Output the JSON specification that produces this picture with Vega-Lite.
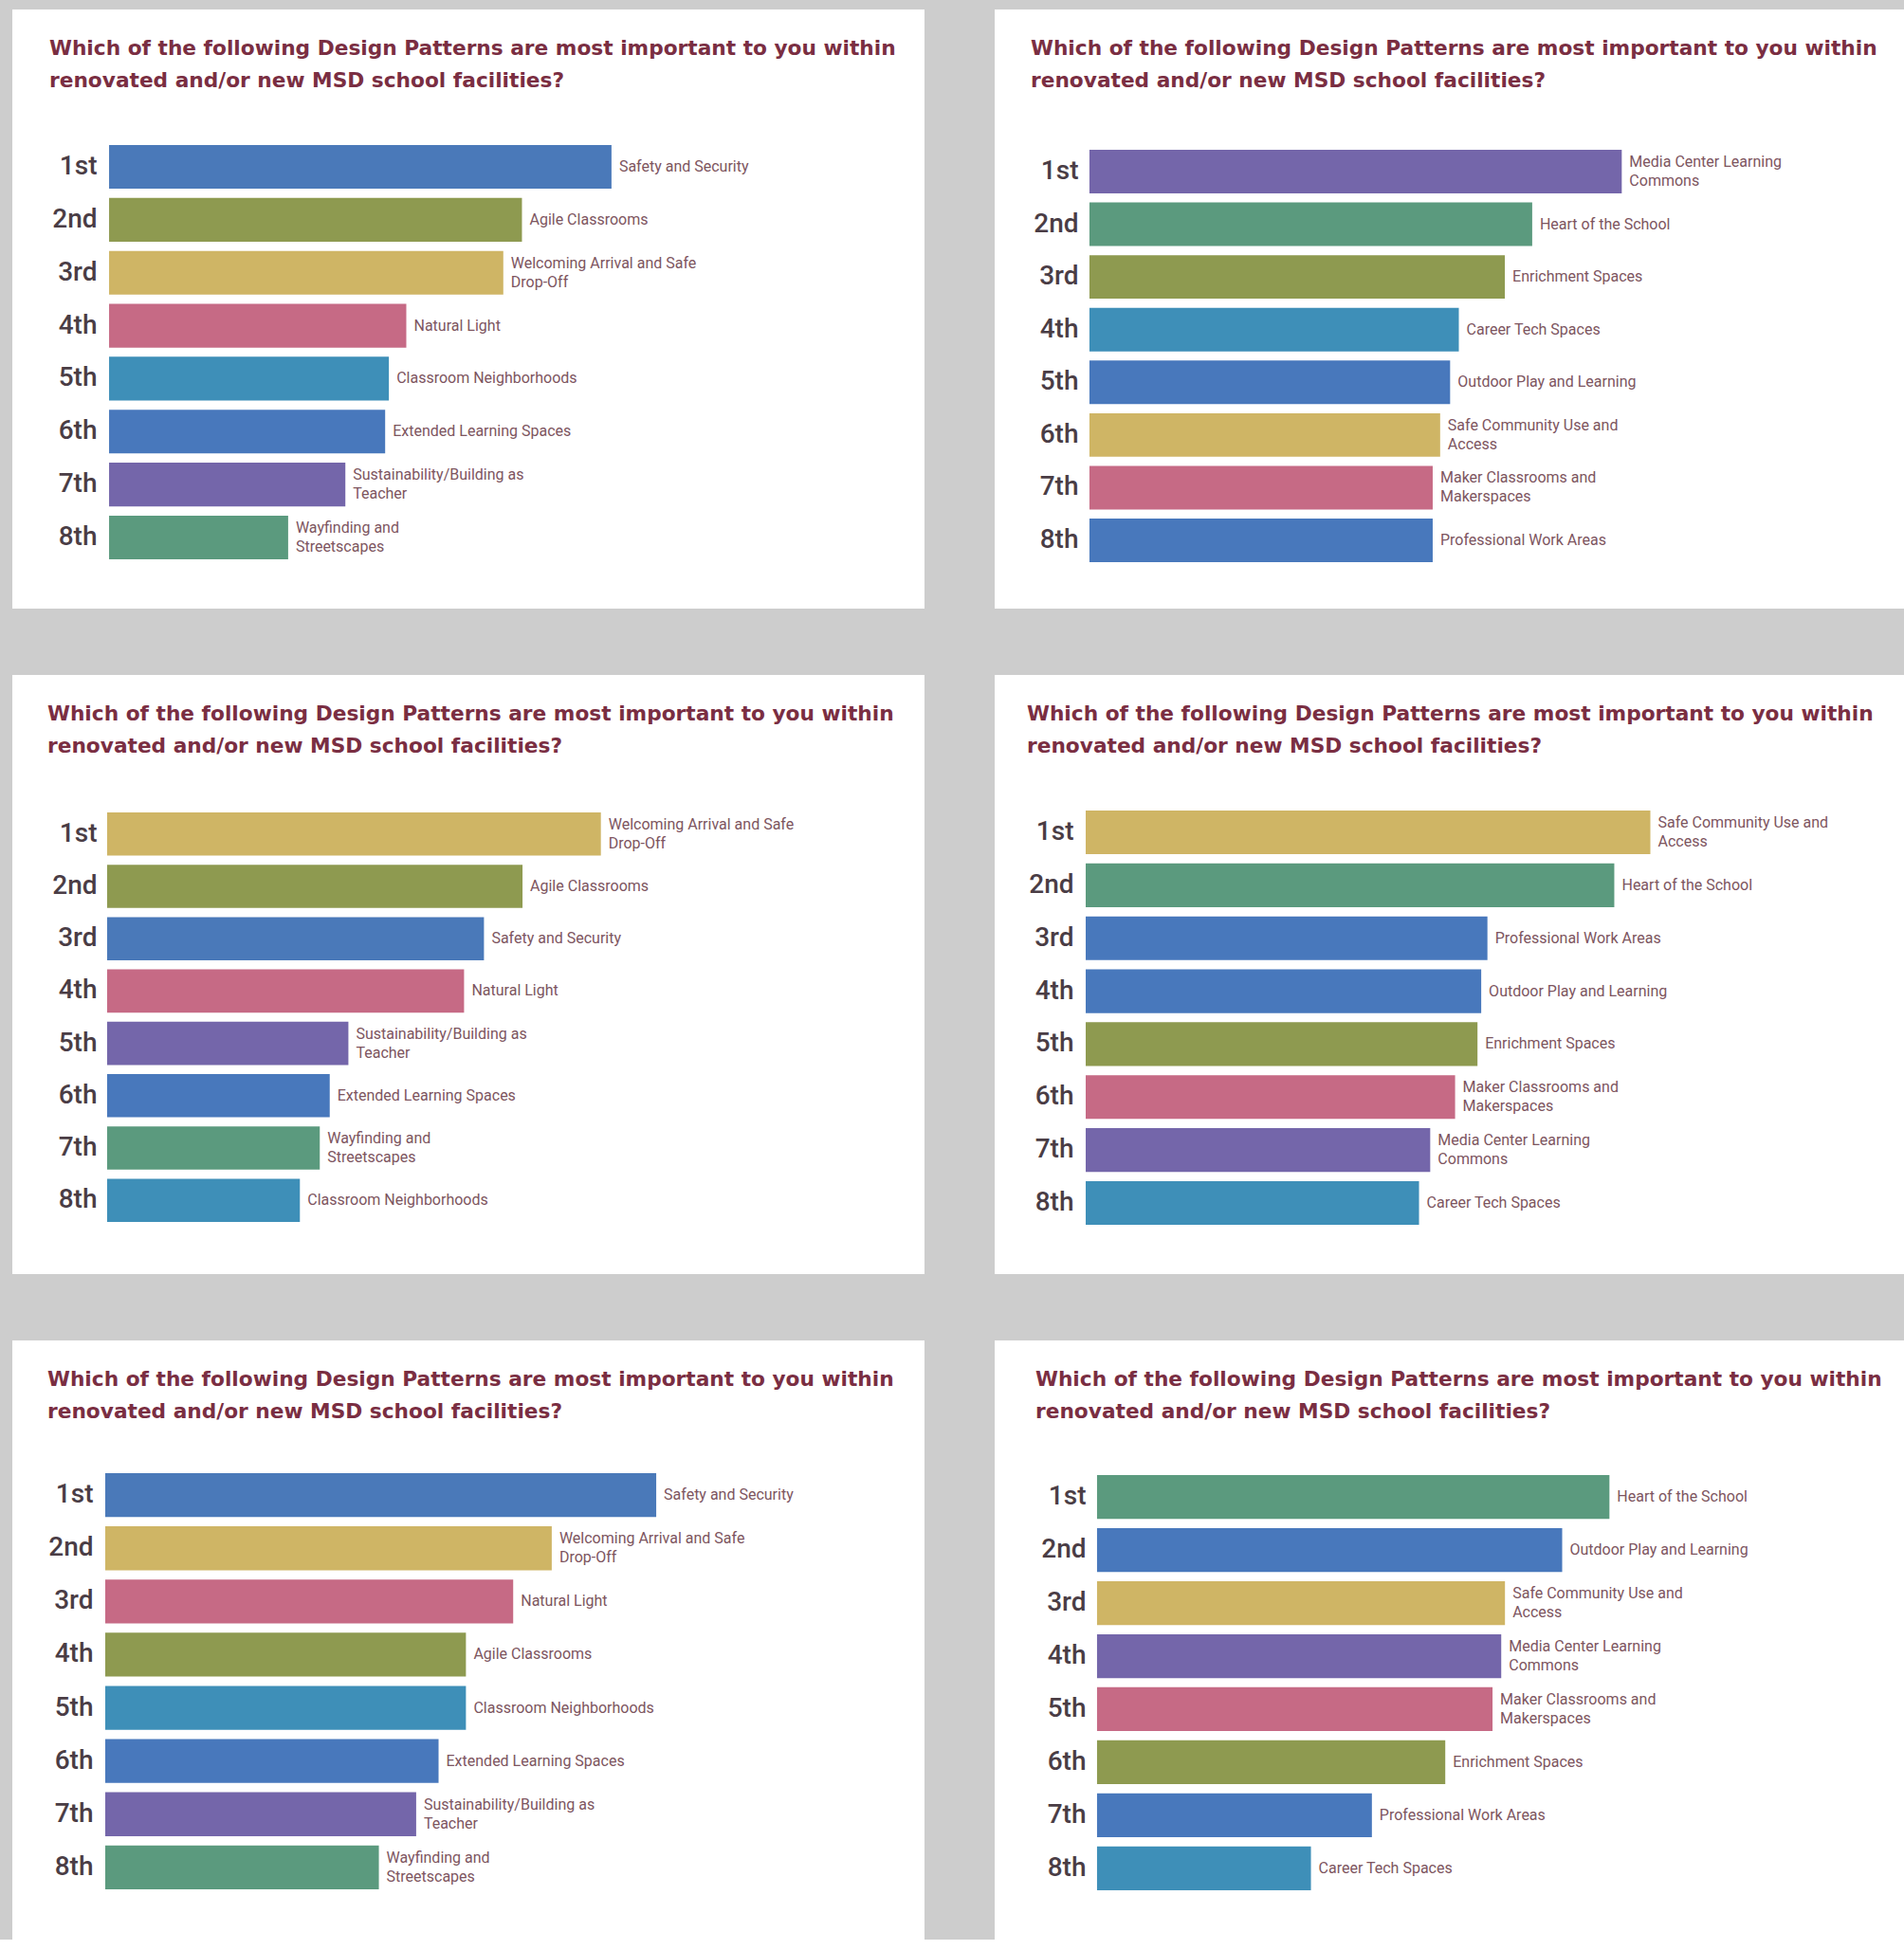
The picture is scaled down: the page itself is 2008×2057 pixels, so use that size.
{
  "$schema": "https://vega.github.io/schema/vega-lite/v6.json",
  "background": "#cdcdcd",
  "padding": {"left": 13, "top": 10, "right": 0, "bottom": 0},
  "data": {
    "values": [
      {"panel": 1, "rank": "1st", "pattern": "Safety and Security", "score": 404},
      {"panel": 1, "rank": "2nd", "pattern": "Agile Classrooms", "score": 332},
      {"panel": 1, "rank": "3rd", "pattern": "Welcoming Arrival and Safe\nDrop-Off", "score": 317},
      {"panel": 1, "rank": "4th", "pattern": "Natural Light", "score": 239},
      {"panel": 1, "rank": "5th", "pattern": "Classroom Neighborhoods", "score": 225},
      {"panel": 1, "rank": "6th", "pattern": "Extended Learning Spaces", "score": 222},
      {"panel": 1, "rank": "7th", "pattern": "Sustainability/Building as\nTeacher", "score": 190},
      {"panel": 1, "rank": "8th", "pattern": "Wayfinding and\nStreetscapes", "score": 144},
      {"panel": 2, "rank": "1st", "pattern": "Media Center Learning\nCommons", "score": 428},
      {"panel": 2, "rank": "2nd", "pattern": "Heart of the School", "score": 356},
      {"panel": 2, "rank": "3rd", "pattern": "Enrichment Spaces", "score": 334},
      {"panel": 2, "rank": "4th", "pattern": "Career Tech Spaces", "score": 297},
      {"panel": 2, "rank": "5th", "pattern": "Outdoor Play and Learning", "score": 290},
      {"panel": 2, "rank": "6th", "pattern": "Safe Community Use and\nAccess", "score": 282},
      {"panel": 2, "rank": "7th", "pattern": "Maker Classrooms and\nMakerspaces", "score": 276},
      {"panel": 2, "rank": "8th", "pattern": "Professional Work Areas", "score": 276},
      {"panel": 3, "rank": "1st", "pattern": "Welcoming Arrival and Safe\nDrop-Off", "score": 397},
      {"panel": 3, "rank": "2nd", "pattern": "Agile Classrooms", "score": 334},
      {"panel": 3, "rank": "3rd", "pattern": "Safety and Security", "score": 303},
      {"panel": 3, "rank": "4th", "pattern": "Natural Light", "score": 287},
      {"panel": 3, "rank": "5th", "pattern": "Sustainability/Building as\nTeacher", "score": 194},
      {"panel": 3, "rank": "6th", "pattern": "Extended Learning Spaces", "score": 179},
      {"panel": 3, "rank": "7th", "pattern": "Wayfinding and\nStreetscapes", "score": 171},
      {"panel": 3, "rank": "8th", "pattern": "Classroom Neighborhoods", "score": 155},
      {"panel": 4, "rank": "1st", "pattern": "Safe Community Use and\nAccess", "score": 454},
      {"panel": 4, "rank": "2nd", "pattern": "Heart of the School", "score": 425},
      {"panel": 4, "rank": "3rd", "pattern": "Professional Work Areas", "score": 323},
      {"panel": 4, "rank": "4th", "pattern": "Outdoor Play and Learning", "score": 318},
      {"panel": 4, "rank": "5th", "pattern": "Enrichment Spaces", "score": 315},
      {"panel": 4, "rank": "6th", "pattern": "Maker Classrooms and\nMakerspaces", "score": 297},
      {"panel": 4, "rank": "7th", "pattern": "Media Center Learning\nCommons", "score": 277},
      {"panel": 4, "rank": "8th", "pattern": "Career Tech Spaces", "score": 268},
      {"panel": 5, "rank": "1st", "pattern": "Safety and Security", "score": 443},
      {"panel": 5, "rank": "2nd", "pattern": "Welcoming Arrival and Safe\nDrop-Off", "score": 359},
      {"panel": 5, "rank": "3rd", "pattern": "Natural Light", "score": 328},
      {"panel": 5, "rank": "4th", "pattern": "Agile Classrooms", "score": 290},
      {"panel": 5, "rank": "5th", "pattern": "Classroom Neighborhoods", "score": 290},
      {"panel": 5, "rank": "6th", "pattern": "Extended Learning Spaces", "score": 268},
      {"panel": 5, "rank": "7th", "pattern": "Sustainability/Building as\nTeacher", "score": 250},
      {"panel": 5, "rank": "8th", "pattern": "Wayfinding and\nStreetscapes", "score": 220},
      {"panel": 6, "rank": "1st", "pattern": "Heart of the School", "score": 412},
      {"panel": 6, "rank": "2nd", "pattern": "Outdoor Play and Learning", "score": 374},
      {"panel": 6, "rank": "3rd", "pattern": "Safe Community Use and\nAccess", "score": 328},
      {"panel": 6, "rank": "4th", "pattern": "Media Center Learning\nCommons", "score": 325},
      {"panel": 6, "rank": "5th", "pattern": "Maker Classrooms and\nMakerspaces", "score": 318},
      {"panel": 6, "rank": "6th", "pattern": "Enrichment Spaces", "score": 280},
      {"panel": 6, "rank": "7th", "pattern": "Professional Work Areas", "score": 221},
      {"panel": 6, "rank": "8th", "pattern": "Career Tech Spaces", "score": 172}
    ]
  },
  "vconcat": [
    {
      "hconcat": [
        {
          "width": 962, "height": 632,
          "title": {"text": ["Which of the following Design Patterns are most important to you within", "renovated and/or new MSD school facilities?"], "dx": 39},
          "transform": [{"filter": "datum.panel == 1"}],
          "encoding": {
            "y": {"field": "rank", "type": "nominal", "sort": ["1st", "2nd", "3rd", "4th", "5th", "6th", "7th", "8th"], "scale": {"range": [143, 580], "paddingInner": 0.174, "paddingOuter": 0, "round": false}, "axis": {"offset": -89}},
            "x": {"field": "score", "type": "quantitative", "scale": {"domain": [-77.8, 655.7], "nice": false, "zero": false}, "axis": null}
          },
          "layer": [
            {"mark": {"type": "bar"}, "encoding": {"color": {"field": "pattern", "type": "nominal", "legend": null, "scale": {"domain": ["Safety and Security", "Agile Classrooms", "Welcoming Arrival and Safe\nDrop-Off", "Natural Light", "Classroom Neighborhoods", "Extended Learning Spaces", "Sustainability/Building as\nTeacher", "Wayfinding and\nStreetscapes", "Media Center Learning\nCommons", "Heart of the School", "Enrichment Spaces", "Career Tech Spaces", "Outdoor Play and Learning", "Safe Community Use and\nAccess", "Maker Classrooms and\nMakerspaces", "Professional Work Areas"], "range": ["#4a79b9", "#8e9a50", "#cfb565", "#c66a85", "#3e8fb8", "#4878bc", "#7466aa", "#5b9a7e", "#7466aa", "#5b9a7e", "#8e9a50", "#3e8fb8", "#4878bc", "#cfb565", "#c66a85", "#4878bc"]}}}},
            {"mark": {"type": "text", "align": "left", "baseline": "middle", "dx": 8, "lineBreak": "\n", "dy": {"expr": "indexof(datum.pattern, '\\n') >= 0 ? -10 : 0"}}, "encoding": {"text": {"field": "pattern"}}}
          ]
        },
        {
          "width": 960, "height": 632,
          "title": {"text": ["Which of the following Design Patterns are most important to you within", "renovated and/or new MSD school facilities?"], "dx": 38},
          "transform": [{"filter": "datum.panel == 2"}],
          "encoding": {
            "y": {"field": "rank", "type": "nominal", "sort": ["1st", "2nd", "3rd", "4th", "5th", "6th", "7th", "8th"], "scale": {"range": [148, 583], "paddingInner": 0.174, "paddingOuter": 0, "round": false}, "axis": {"offset": -88}},
            "x": {"field": "score", "type": "quantitative", "scale": {"domain": [-76.2, 655.7], "nice": false, "zero": false}, "axis": null}
          },
          "layer": [
            {"mark": {"type": "bar"}, "encoding": {"color": {"field": "pattern", "type": "nominal", "legend": null, "scale": {"domain": ["Safety and Security", "Agile Classrooms", "Welcoming Arrival and Safe\nDrop-Off", "Natural Light", "Classroom Neighborhoods", "Extended Learning Spaces", "Sustainability/Building as\nTeacher", "Wayfinding and\nStreetscapes", "Media Center Learning\nCommons", "Heart of the School", "Enrichment Spaces", "Career Tech Spaces", "Outdoor Play and Learning", "Safe Community Use and\nAccess", "Maker Classrooms and\nMakerspaces", "Professional Work Areas"], "range": ["#4a79b9", "#8e9a50", "#cfb565", "#c66a85", "#3e8fb8", "#4878bc", "#7466aa", "#5b9a7e", "#7466aa", "#5b9a7e", "#8e9a50", "#3e8fb8", "#4878bc", "#cfb565", "#c66a85", "#4878bc"]}}}},
            {"mark": {"type": "text", "align": "left", "baseline": "middle", "dx": 8, "lineBreak": "\n", "dy": {"expr": "indexof(datum.pattern, '\\n') >= 0 ? -10 : 0"}}, "encoding": {"text": {"field": "pattern"}}}
          ]
        }
      ]
    },
    {
      "hconcat": [
        {
          "width": 962, "height": 632,
          "title": {"text": ["Which of the following Design Patterns are most important to you within", "renovated and/or new MSD school facilities?"], "dx": 37},
          "transform": [{"filter": "datum.panel == 3"}],
          "encoding": {
            "y": {"field": "rank", "type": "nominal", "sort": ["1st", "2nd", "3rd", "4th", "5th", "6th", "7th", "8th"], "scale": {"range": [145, 577], "paddingInner": 0.174, "paddingOuter": 0, "round": false}, "axis": {"offset": -89}},
            "x": {"field": "score", "type": "quantitative", "scale": {"domain": [-76.2, 657.2], "nice": false, "zero": false}, "axis": null}
          },
          "layer": [
            {"mark": {"type": "bar"}, "encoding": {"color": {"field": "pattern", "type": "nominal", "legend": null, "scale": {"domain": ["Safety and Security", "Agile Classrooms", "Welcoming Arrival and Safe\nDrop-Off", "Natural Light", "Classroom Neighborhoods", "Extended Learning Spaces", "Sustainability/Building as\nTeacher", "Wayfinding and\nStreetscapes", "Media Center Learning\nCommons", "Heart of the School", "Enrichment Spaces", "Career Tech Spaces", "Outdoor Play and Learning", "Safe Community Use and\nAccess", "Maker Classrooms and\nMakerspaces", "Professional Work Areas"], "range": ["#4a79b9", "#8e9a50", "#cfb565", "#c66a85", "#3e8fb8", "#4878bc", "#7466aa", "#5b9a7e", "#7466aa", "#5b9a7e", "#8e9a50", "#3e8fb8", "#4878bc", "#cfb565", "#c66a85", "#4878bc"]}}}},
            {"mark": {"type": "text", "align": "left", "baseline": "middle", "dx": 8, "lineBreak": "\n", "dy": {"expr": "indexof(datum.pattern, '\\n') >= 0 ? -10 : 0"}}, "encoding": {"text": {"field": "pattern"}}}
          ]
        },
        {
          "width": 960, "height": 632,
          "title": {"text": ["Which of the following Design Patterns are most important to you within", "renovated and/or new MSD school facilities?"], "dx": 34},
          "transform": [{"filter": "datum.panel == 4"}],
          "encoding": {
            "y": {"field": "rank", "type": "nominal", "sort": ["1st", "2nd", "3rd", "4th", "5th", "6th", "7th", "8th"], "scale": {"range": [143, 580], "paddingInner": 0.174, "paddingOuter": 0, "round": false}, "axis": {"offset": -83}},
            "x": {"field": "score", "type": "quantitative", "scale": {"domain": [-73.2, 658.7], "nice": false, "zero": false}, "axis": null}
          },
          "layer": [
            {"mark": {"type": "bar"}, "encoding": {"color": {"field": "pattern", "type": "nominal", "legend": null, "scale": {"domain": ["Safety and Security", "Agile Classrooms", "Welcoming Arrival and Safe\nDrop-Off", "Natural Light", "Classroom Neighborhoods", "Extended Learning Spaces", "Sustainability/Building as\nTeacher", "Wayfinding and\nStreetscapes", "Media Center Learning\nCommons", "Heart of the School", "Enrichment Spaces", "Career Tech Spaces", "Outdoor Play and Learning", "Safe Community Use and\nAccess", "Maker Classrooms and\nMakerspaces", "Professional Work Areas"], "range": ["#4a79b9", "#8e9a50", "#cfb565", "#c66a85", "#3e8fb8", "#4878bc", "#7466aa", "#5b9a7e", "#7466aa", "#5b9a7e", "#8e9a50", "#3e8fb8", "#4878bc", "#cfb565", "#c66a85", "#4878bc"]}}}},
            {"mark": {"type": "text", "align": "left", "baseline": "middle", "dx": 8, "lineBreak": "\n", "dy": {"expr": "indexof(datum.pattern, '\\n') >= 0 ? -10 : 0"}}, "encoding": {"text": {"field": "pattern"}}}
          ]
        }
      ]
    },
    {
      "hconcat": [
        {
          "width": 962, "height": 632,
          "title": {"text": ["Which of the following Design Patterns are most important to you within", "renovated and/or new MSD school facilities?"], "dx": 37},
          "transform": [{"filter": "datum.panel == 5"}],
          "encoding": {
            "y": {"field": "rank", "type": "nominal", "sort": ["1st", "2nd", "3rd", "4th", "5th", "6th", "7th", "8th"], "scale": {"range": [140, 579], "paddingInner": 0.174, "paddingOuter": 0, "round": false}, "axis": {"offset": -85}},
            "x": {"field": "score", "type": "quantitative", "scale": {"domain": [-74.7, 658.7], "nice": false, "zero": false}, "axis": null}
          },
          "layer": [
            {"mark": {"type": "bar"}, "encoding": {"color": {"field": "pattern", "type": "nominal", "legend": null, "scale": {"domain": ["Safety and Security", "Agile Classrooms", "Welcoming Arrival and Safe\nDrop-Off", "Natural Light", "Classroom Neighborhoods", "Extended Learning Spaces", "Sustainability/Building as\nTeacher", "Wayfinding and\nStreetscapes", "Media Center Learning\nCommons", "Heart of the School", "Enrichment Spaces", "Career Tech Spaces", "Outdoor Play and Learning", "Safe Community Use and\nAccess", "Maker Classrooms and\nMakerspaces", "Professional Work Areas"], "range": ["#4a79b9", "#8e9a50", "#cfb565", "#c66a85", "#3e8fb8", "#4878bc", "#7466aa", "#5b9a7e", "#7466aa", "#5b9a7e", "#8e9a50", "#3e8fb8", "#4878bc", "#cfb565", "#c66a85", "#4878bc"]}}}},
            {"mark": {"type": "text", "align": "left", "baseline": "middle", "dx": 8, "lineBreak": "\n", "dy": {"expr": "indexof(datum.pattern, '\\n') >= 0 ? -10 : 0"}}, "encoding": {"text": {"field": "pattern"}}}
          ]
        },
        {
          "width": 960, "height": 632,
          "title": {"text": ["Which of the following Design Patterns are most important to you within", "renovated and/or new MSD school facilities?"], "dx": 43},
          "transform": [{"filter": "datum.panel == 6"}],
          "encoding": {
            "y": {"field": "rank", "type": "nominal", "sort": ["1st", "2nd", "3rd", "4th", "5th", "6th", "7th", "8th"], "scale": {"range": [142, 580], "paddingInner": 0.174, "paddingOuter": 0, "round": false}, "axis": {"offset": -96}},
            "x": {"field": "score", "type": "quantitative", "scale": {"domain": [-82.3, 649.6], "nice": false, "zero": false}, "axis": null}
          },
          "layer": [
            {"mark": {"type": "bar"}, "encoding": {"color": {"field": "pattern", "type": "nominal", "legend": null, "scale": {"domain": ["Safety and Security", "Agile Classrooms", "Welcoming Arrival and Safe\nDrop-Off", "Natural Light", "Classroom Neighborhoods", "Extended Learning Spaces", "Sustainability/Building as\nTeacher", "Wayfinding and\nStreetscapes", "Media Center Learning\nCommons", "Heart of the School", "Enrichment Spaces", "Career Tech Spaces", "Outdoor Play and Learning", "Safe Community Use and\nAccess", "Maker Classrooms and\nMakerspaces", "Professional Work Areas"], "range": ["#4a79b9", "#8e9a50", "#cfb565", "#c66a85", "#3e8fb8", "#4878bc", "#7466aa", "#5b9a7e", "#7466aa", "#5b9a7e", "#8e9a50", "#3e8fb8", "#4878bc", "#cfb565", "#c66a85", "#4878bc"]}}}},
            {"mark": {"type": "text", "align": "left", "baseline": "middle", "dx": 8, "lineBreak": "\n", "dy": {"expr": "indexof(datum.pattern, '\\n') >= 0 ? -10 : 0"}}, "encoding": {"text": {"field": "pattern"}}}
          ]
        }
      ]
    }
  ],
  "spacing": 70,
  "config": {
    "concat": {"spacing": 74},
    "view": {"fill": "white", "stroke": null},
    "title": {"anchor": "start", "frame": "group", "offset": -87, "font": "DejaVu Sans", "fontSize": 21.7, "fontWeight": "bold", "color": "#7a2e42", "lineHeight": 34},
    "axisY": {"title": null, "domain": false, "ticks": false, "tickSize": 0, "labelPadding": 0, "labelFont": "Roboto", "labelFontSize": 28, "labelFontWeight": 500, "labelColor": "#4a3d45", "grid": false},
    "text": {"font": "Roboto", "fontSize": 16, "color": "#7d5560", "lineHeight": 20},
    "bar": {"stroke": null}
  }
}
